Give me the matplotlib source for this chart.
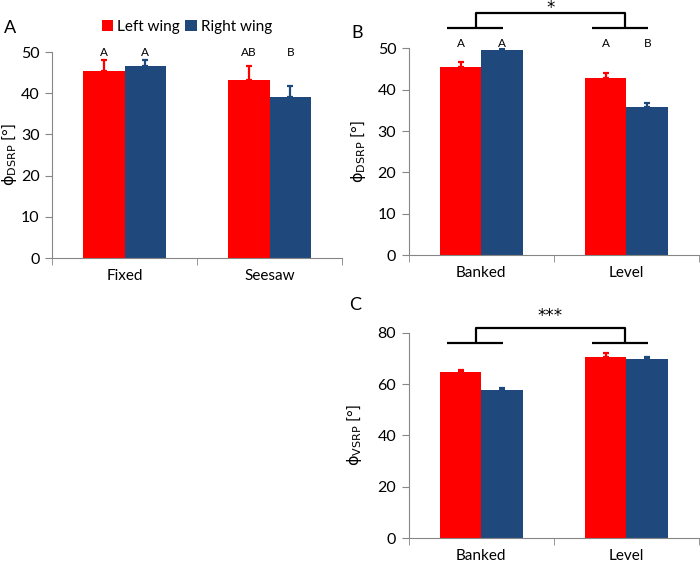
import matplotlib
matplotlib.use("Agg")
import matplotlib.pyplot as plt
import numpy as np

plt.rcParams['font.family'] = ['Lato', 'DejaVu Sans']
plt.rcParams['mathtext.fontset'] = 'custom'
plt.rcParams['mathtext.rm'] = 'DejaVu Sans'

# panel A
a_cats = ["Fixed", "Seesaw"]
a_left = [45.5, 43.2]
a_left_err = [2.6, 3.4]
a_right = [46.5, 39.2]
a_right_err = [1.6, 2.5]
a_letters_left = ["A", "AB"]
a_letters_right = ["A", "B"]

# panel B
b_cats = ["Banked", "Level"]
b_left = [45.6, 42.8]
b_left_err = [1.0, 1.3]
b_right = [49.6, 35.9]
b_right_err = [0.3, 1.0]
b_letters_left = ["A", "A"]
b_letters_right = ["A", "B"]

# panel C
c_cats = ["Banked", "Level"]
c_left = [64.7, 70.7]
c_left_err = [0.9, 1.5]
c_right = [57.7, 69.6]
c_right_err = [0.8, 1.1]

red = "#FF0000"
blue = "#1F497D"
gray = "#868686"
w = 0.286

fig = plt.figure(figsize=(7, 5.63), dpi=100)
axA = fig.add_axes([0.0743, 0.5417, 0.4143, 0.3659])
axB = fig.add_axes([0.584, 0.547, 0.4146, 0.367])
axC = fig.add_axes([0.584, 0.0439, 0.4146, 0.3652])


def draw(ax, cats, left, lerr, right, rerr, ymax, ystep, label, lx):
    x = np.arange(len(cats))
    ax.bar(x - w / 2, left, w, color=red, label="Left wing", zorder=2)
    ax.bar(x + w / 2, right, w, color=blue, label="Right wing", zorder=2)
    ax.errorbar(x - w / 2, left, yerr=[np.zeros(len(x)), lerr], fmt="none",
                ecolor=red, elinewidth=1.6, capsize=2.2, capthick=1.6, zorder=3)
    ax.errorbar(x + w / 2, right, yerr=[np.zeros(len(x)), rerr], fmt="none",
                ecolor=blue, elinewidth=1.6, capsize=2.2, capthick=1.6, zorder=3)
    ax.set_xlim(-0.5, len(cats) - 0.5)
    ax.set_ylim(0, ymax)
    ax.set_yticks(np.arange(0, ymax + 1, ystep))
    ax.set_xticks(x)
    ax.set_xticklabels(cats)
    ax.set_xticks(np.arange(-0.5, len(cats), 1.0), minor=True)
    ax.tick_params(axis="x", which="major", length=0, pad=8, labelsize=11)
    ax.tick_params(axis="x", which="minor", length=5, color=gray, direction="out")
    ax.tick_params(axis="y", length=5, color=gray, labelsize=11.5, pad=4)
    for s in ["top", "right"]:
        ax.spines[s].set_visible(False)
    for s in ["left", "bottom"]:
        ax.spines[s].set_color(gray)
    ax.set_ylabel(label, fontsize=11.5)
    ax.yaxis.set_label_coords(lx, 0.5)
    return x


ylab_d = r"$\mathrm{ϕ}_{\mathrm{DSRP}}$ [°]"
ylab_v = r"$\mathrm{ϕ}_{\mathrm{VSRP}}$ [°]"
xa = draw(axA, a_cats, a_left, a_left_err, a_right, a_right_err, 50, 10, ylab_d, -0.115)
xb = draw(axB, b_cats, b_left, b_left_err, b_right, b_right_err, 50, 10, ylab_d, -0.14)
xc = draw(axC, c_cats, c_left, c_left_err, c_right, c_right_err, 80, 20, ylab_v, -0.155)

for i in range(2):
    axA.text(xa[i] - w / 2, 50, a_letters_left[i], ha="center", va="center", fontsize=8.5)
    axA.text(xa[i] + w / 2, 50, a_letters_right[i], ha="center", va="center", fontsize=8.5)
    axB.text(xb[i] - w / 2, 51.2, b_letters_left[i], ha="center", va="center", fontsize=8.5)
    axB.text(xb[i] + w / 2, 51.2, b_letters_right[i], ha="center", va="center", fontsize=8.5)


def bracket(ax, low, high, star, ystar):
    kw = dict(color="black", lw=1.6, clip_on=False, solid_capstyle="butt")
    ax.plot([-0.24, 0.15], [low, low], **kw)
    ax.plot([0.76, 1.15], [low, low], **kw)
    ax.plot([-0.04, -0.04, 0.99, 0.99], [low, high, high, low], **kw)
    ax.text(0.475, ystar, star, ha="center", va="center", fontsize=12,
            family="DejaVu Sans")


bracket(axB, 54.9, 58.6, "*", 59.9)
bracket(axC, 76.1, 81.8, "***", 86.5)

h, l = axA.get_legend_handles_labels()
fig.legend(h, l, loc="center", bbox_to_anchor=(0.267, 0.952), ncol=2, frameon=False,
           handlelength=0.75, handleheight=0.75, handletextpad=0.25, columnspacing=0.35,
           fontsize=11)

fig.text(10 / 700, 1 - 28 / 563, "A", fontsize=13, ha="center", va="center")
fig.text(357 / 700, 1 - 33 / 563, "B", fontsize=13, ha="center", va="center")
fig.text(355 / 700, 1 - 305 / 563, "C", fontsize=13, ha="center", va="center")

fig.savefig("out.png", dpi=100)
